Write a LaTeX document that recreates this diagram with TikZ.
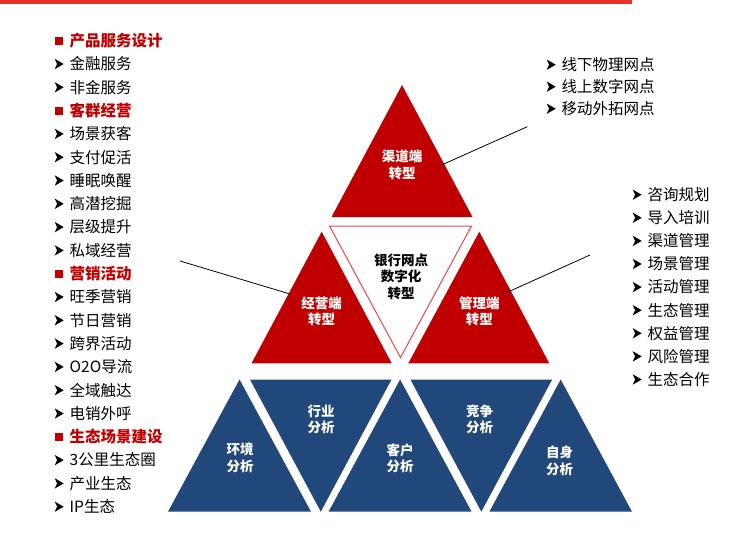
\documentclass[tikz,border=0pt]{standalone}
\usepackage{fontspec}
\setmainfont{Noto Sans CJK SC}
\definecolor{topbar}{HTML}{E8302A}
\definecolor{tred}{HTML}{C00000}
\definecolor{hdred}{HTML}{C00000}
\definecolor{tblue}{HTML}{21487A}
\definecolor{invborder}{HTML}{E84848}
\newcommand\arr{\makebox[15pt][l]{\tikz[baseline=0pt,x=1pt,y=1pt]\fill[black] (0,0.6) -- (9,5.8) -- (0,11) -- (2.4,5.8) -- cycle;}}
\newcommand\sqm{\makebox[15pt][l]{\textcolor{hdred}{\raisebox{1.6pt}{\rule{8.3pt}{8pt}}}}}
\tikzset{
  itm/.style={anchor=base west, inner sep=0pt, font=\fontsize{15.5}{18}\selectfont, text=black},
  hdr/.style={anchor=base west, inner sep=0pt, font=\fontsize{15.5}{18}\selectfont\bfseries, text=hdred},
  wlab/.style={align=center, inner sep=0pt, text=white, font=\fontsize{13.5}{16.5}\selectfont\bfseries},
  klab/.style={align=center, inner sep=0pt, text=black, font=\fontsize{13.5}{16.5}\selectfont\bfseries},
  link/.style={draw=black, line width=0.8pt}
}
\begin{document}
\begin{tikzpicture}[x=1pt,y=-1pt]
\useasboundingbox (0,0) rectangle (752,541);
\fill[white] (0,0) rectangle (752,541);
% top bar
\fill[topbar] (0,0) rectangle (632,3.5);

% red triangles
\fill[tred] (402,85) -- (472.5,217) -- (331.5,217) -- cycle;
\draw[invborder, fill=white, line width=1pt] (329.5,226) -- (471.5,226) -- (400.5,357.5) -- cycle;
\fill[tred] (321.7,231.7) -- (391.7,363.3) -- (251.5,363.3) -- cycle;
\fill[tred] (479.3,231.7) -- (549.3,363.3) -- (408.3,363.3) -- cycle;

% blue triangles
\fill[tblue] (239.5,379.5) -- (311,511.7) -- (168,511.7) -- cycle;
\fill[tblue] (250,379.5) -- (391.5,379.5) -- (320.8,511.7) -- cycle;
\fill[tblue] (400.1,379.5) -- (471.6,511.7) -- (328.6,511.7) -- cycle;
\fill[tblue] (410.4,379.5) -- (552.2,379.5) -- (481.3,511.7) -- cycle;
\fill[tblue] (560.7,379.5) -- (632,511.7) -- (489.4,511.7) -- cycle;

% triangle labels
\node[wlab] (qd) at (402,165) {渠道端\\转型};
\node[wlab] (jy) at (321.7,311.5) {经营端\\转型};
\node[wlab] (gl) at (479.3,311.5) {管理端\\转型};
\node[klab] (yh) at (401,276.5) {银行网点\\数字化\\转型};
\node[wlab] (hj) at (240,458) {环境\\分析};
\node[wlab] (hy) at (321,419.5) {行业\\分析};
\node[wlab] (kh) at (400,458.5) {客户\\分析};
\node[wlab] (jz) at (479.5,419.5) {竞争\\分析};
\node[wlab] (zs) at (559.5,461) {自身\\分析};

% left list
\foreach \i/\t in {0/产品服务设计,3/客群经营,10/营销活动,17/生态场景建设}
  \node[hdr] (L\i) at (54.5,{46.5+23.3*\i}) {\sqm\t};
\foreach \i/\t in {1/金融服务,2/非金服务,4/场景获客,5/支付促活,6/睡眠唤醒,7/高潜挖掘,8/层级提升,9/私域经营,11/旺季营销,12/节日营销,13/跨界活动,14/O2O导流,15/全域触达,16/电销外呼,18/3公里生态圈,19/产业生态,20/IP生态}
  \node[itm] (L\i) at (54.5,{46.5+23.3*\i}) {\arr\t};

% top right list
\node[itm] (T1) at (546.5,70.5) {\arr 线下物理网点};
\node[itm] (T2) at (546.5,92.5) {\arr 线上数字网点};
\node[itm] (T3) at (546.5,114.5) {\arr 移动外拓网点};

% right list
\foreach \t [count=\i from 0] in {咨询规划,导入培训,渠道管理,场景管理,活动管理,生态管理,权益管理,风险管理,生态合作}
  \node[itm] (R\i) at (632.5,{200.5+23.1*\i}) {\arr\t};

% connectors
\coordinate (cqa) at (440,165.7);
\coordinate (cqb) at (527.3,126.7);
\coordinate (cja) at (180,261);
\coordinate (cjb) at (290,294);
\coordinate (cga) at (505,293.3);
\coordinate (cgb) at (590,255);
\draw[link] (cqa) -- (cqb);
\draw[link] (cja) -- (cjb);
\draw[link] (cga) -- (cgb);
\end{tikzpicture}
\end{document}
